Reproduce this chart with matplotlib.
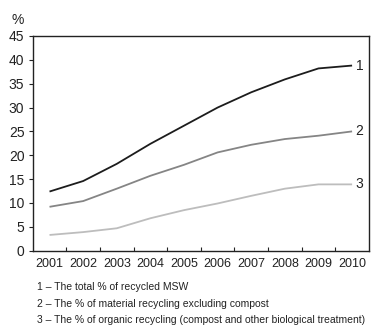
import numpy as np
import matplotlib
matplotlib.use("Agg")
import matplotlib.pyplot as plt

plt.rcParams['font.family'] = ['Liberation Sans', 'DejaVu Sans']

years = ['2001', '2002', '2003', '2004', '2005', '2006', '2007', '2008', '2009', '2010']
total_recycled = [12.4, 14.6, 18.2, 22.4, 26.2, 30.0, 33.2, 35.9, 38.2, 38.8]
material_recycling = [9.2, 10.4, 13.0, 15.7, 18.0, 20.6, 22.2, 23.4, 24.1, 25.0]
organic_recycling = [3.3, 3.9, 4.7, 6.8, 8.5, 9.9, 11.5, 13.0, 13.9, 13.9]

series = [
    ('1', total_recycled, '#1c1c1c'),
    ('2', material_recycling, '#858585'),
    ('3', organic_recycling, '#bdbdbd'),
]
notes = [
    '1 \u2013 The total % of recycled MSW',
    '2 \u2013 The % of material recycling excluding compost',
    '3 \u2013 The % of organic recycling (compost and other biological treatment)',
]

fig = plt.figure(figsize=(3.73, 3.27), dpi=100)
ax = fig.add_axes([0.0877, 0.2333, 0.9013, 0.6567])

x = np.arange(len(years))
for label, vals, col in series:
    ax.plot(x, vals, color=col, lw=1.3, solid_capstyle='butt')
    ax.annotate(label, (x[-1], vals[-1]), xytext=(2.5, 0), textcoords='offset points',
                ha='left', va='center', fontsize=10, color='#222222')

ax.set_xlim(-0.5, len(years) - 0.5)
ax.set_ylim(0, 45)
ax.set_yticks(range(0, 46, 5))
ax.set_xticks(x)
ax.set_xticklabels(years)
ax.set_xticks(np.arange(0.5, len(years) - 1, 1), minor=True)

ax.tick_params(axis='y', direction='out', length=3, width=0.8, pad=3,
               labelsize=10, colors='#222222')
ax.tick_params(axis='x', which='major', length=0, pad=5, labelsize=9, colors='#222222')
ax.tick_params(axis='x', which='minor', direction='in', length=3, width=0.8, color='#222222')

for sp in ax.spines.values():
    sp.set_linewidth(1.0)
    sp.set_color('#222222')

fig.text(0.047, 0.938, '%', fontsize=10, ha='center', va='center', color='#222222')

for i, txt in enumerate(notes):
    fig.text(0.098, 0.121 - i * 0.0505, txt, fontsize=7.5, ha='left', va='center',
             color='#222222')

fig.savefig('out.png', dpi=100)
